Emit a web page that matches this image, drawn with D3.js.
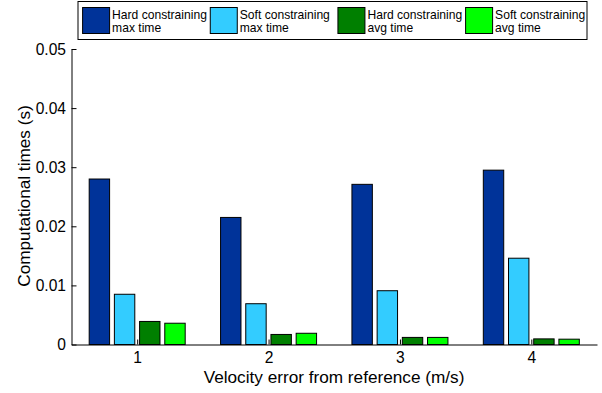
<!DOCTYPE html>
<html><head><meta charset="utf-8">
<script src="https://cdn.jsdelivr.net/npm/d3@7"></script>
<style>body{margin:0;background:#fff}svg{display:block}text{font-family:"Liberation Sans",Arial,sans-serif}</style>
</head><body><svg id="c" width="602" height="393"></svg>
<script>
const categories = [1, 2, 3, 4];
const seriesNames = ["Hard constraining max time", "Soft constraining max time", "Hard constraining avg time", "Soft constraining avg time"];
const legendLines = [["Hard constraining","max time"],["Soft constraining","max time"],["Hard constraining","avg time"],["Soft constraining","avg time"]];
const hardMax = [0.0280, 0.0215, 0.0271, 0.0295];
const softMax = [0.0085, 0.0069, 0.0091, 0.0146];
const hardAvg = [0.0039, 0.0017, 0.0012, 0.00095];
const softAvg = [0.0036, 0.0019, 0.0012, 0.0009];
const colors = ["#003399", "#33ccff", "#007f00", "#00ff00"];
const yTicks = [0, 0.01, 0.02, 0.03, 0.04, 0.05];
const yTickLabels = ["0", "0.01", "0.02", "0.03", "0.04", "0.05"];
const series = [hardMax, softMax, hardAvg, softAvg];

const svg = d3.select("#c");
const x = d3.scaleLinear().domain([0.5, 4.5]).range([71.5, 597]);
const y = d3.scaleLinear().domain([0, 0.05]).range([344.5, 49]);
const sub = d3.scaleBand().domain(d3.range(4)).range([-48, 48]).paddingInner(0.19);

const g = svg.append("g");
categories.forEach((c, i) => {
  series.forEach((s, k) => {
    g.append("rect")
      .attr("x", x(c) + sub(k))
      .attr("y", y(s[i]))
      .attr("width", sub.bandwidth())
      .attr("height", y(0) - y(s[i]))
      .attr("fill", colors[k])
      .attr("stroke", "#000").attr("stroke-width", 1);
  });
});

// y axis
const ya = svg.append("g").attr("transform", "translate(71.5,0)")
  .call(d3.axisLeft(y).tickValues(yTicks).tickFormat((d, i) => yTickLabels[i]).tickSizeInner(-5).tickSizeOuter(0).tickPadding(5.5));
ya.select(".domain").attr("stroke", "#000");
ya.selectAll("text").attr("font-size", 15.6).attr("fill", "#000");
// x axis
const xa = svg.append("g").attr("transform", "translate(0,344.5)")
  .call(d3.axisBottom(x).tickValues(categories).tickFormat(d3.format("d")).tickSizeInner(-5).tickSizeOuter(0).tickPadding(7));
xa.selectAll("text").attr("font-size", 15.6).attr("fill", "#000");
xa.select(".domain").attr("stroke", "#000");

svg.append("text").attr("x", 334).attr("y", 382.5).attr("text-anchor", "middle")
  .attr("font-size", 17.2).text("Velocity error from reference (m/s)");
svg.append("text").attr("transform", "translate(30,196) rotate(-90)").attr("text-anchor", "middle")
  .attr("font-size", 17.2).text("Computational times (s)");

// legend
const lg = svg.append("g");
lg.append("rect").attr("x", 78).attr("y", 1.5).attr("width", 509).attr("height", 38)
  .attr("fill", "#fff").attr("stroke", "#000").attr("stroke-width", 1);
const lx = d3.scaleLinear().domain([0, 3]).range([82.6, 465.6]);
seriesNames.forEach((n, k) => {
  lg.append("rect").attr("x", lx(k)).attr("y", 7.5).attr("width", 27).attr("height", 26)
    .attr("fill", colors[k]).attr("stroke", "#000").attr("stroke-width", 1);
  const t = lg.append("text").attr("x", lx(k) + 29.5).attr("y", 18.5).attr("font-size", 12.1);
  t.append("tspan").attr("x", lx(k) + 29.5).text(legendLines[k][0]);
  t.append("tspan").attr("x", lx(k) + 29.5).attr("dy", 13.5).text(legendLines[k][1]);
});
</script></body></html>
